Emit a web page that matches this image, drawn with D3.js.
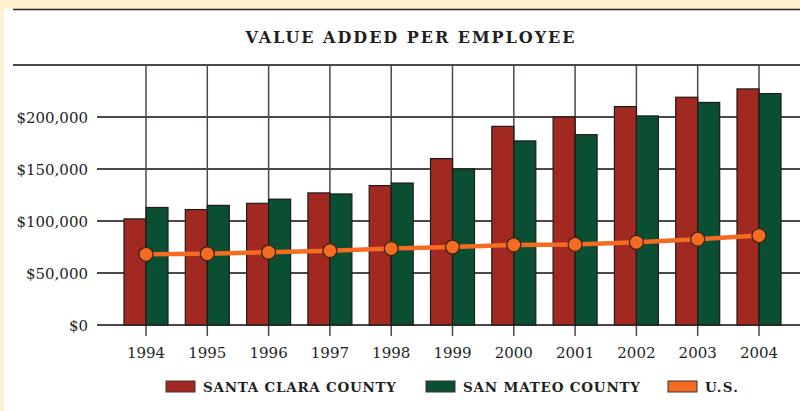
<!DOCTYPE html>
<html>
<head>
  <meta charset="utf-8">
  <style>
    body {
      margin: 0;
      background: #fdf1d2;
    }
    svg {
      display: block;
    }
    text {
      font-family: "DejaVu Serif", "Liberation Serif", serif;
      fill: #231f1f;
    }
  </style>
</head>
<body>
  <svg id="chart"></svg>
  <script src="https://cdn.jsdelivr.net/npm/d3@7"></script>
  <script>
    // data
    var years = ["1994", "1995", "1996", "1997", "1998", "1999", "2000", "2001", "2002", "2003", "2004"];
    var santaClara = [102000, 111000, 117000, 127000, 134000, 160000, 191000, 200000, 210000, 219000, 227000];
    var sanMateo = [113000, 115000, 121000, 126000, 136500, 150000, 177000, 183000, 201000, 214000, 222500];
    var usValues = [68000, 68500, 70000, 71500, 73500, 75000, 77000, 77500, 79500, 82500, 86000];
    var yTicks = [0, 50000, 100000, 150000, 200000];
    var seriesNames = ["SANTA CLARA COUNTY", "SAN MATEO COUNTY", "U.S."];
    var seriesColors = ["#a22822", "#0b4f33", "#f36c21"];

    var width = 800;
    var height = 411;
    var gridColor = "#4d4747";

    var svg = d3.select("#chart")
      .attr("width", width)
      .attr("height", height);

    // white panel
    svg.append("rect")
      .attr("x", 4).attr("y", 9)
      .attr("width", width - 4).attr("height", height - 9)
      .attr("fill", "white");
    svg.append("line")
      .attr("x1", 13).attr("x2", width)
      .attr("y1", 9.5).attr("y2", 9.5)
      .attr("stroke", "#2a2525").attr("stroke-width", 1.6);

    // title
    svg.append("text")
      .attr("x", 410).attr("y", 43)
      .attr("text-anchor", "middle")
      .attr("font-size", 16)
      .attr("font-weight", "bold")
      .attr("textLength", 329)
      .attr("lengthAdjust", "spacing")
      .text("VALUE ADDED PER EMPLOYEE");

    // scales
    var x = d3.scalePoint()
      .domain(years)
      .range([146, 759]);
    var xSub = d3.scaleBand()
      .domain([0, 1])
      .range([-22, 22]);
    var y = d3.scaleLinear()
      .domain([0, 250000])
      .range([325, 65]);

    // grid
    var grid = svg.append("g");
    grid.append("line")
      .attr("x1", 13).attr("x2", width)
      .attr("y1", y(250000)).attr("y2", y(250000))
      .attr("stroke", gridColor).attr("stroke-width", 2);
    grid.selectAll("line.h")
      .data(yTicks)
      .join("line")
      .attr("class", "h")
      .attr("x1", 97).attr("x2", width)
      .attr("y1", d => y(d)).attr("y2", d => y(d))
      .attr("stroke", gridColor).attr("stroke-width", 2);
    grid.selectAll("line.v")
      .data(years)
      .join("line")
      .attr("class", "v")
      .attr("x1", d => x(d)).attr("x2", d => x(d))
      .attr("y1", y(250000)).attr("y2", y(0) + 11)
      .attr("stroke", gridColor).attr("stroke-width", 1.5);

    // y labels
    svg.append("g").selectAll("text")
      .data(yTicks)
      .join("text")
      .attr("x", 88)
      .attr("y", d => y(d) + 5.5)
      .attr("text-anchor", "end")
      .attr("font-size", 15)
      .text(d => "$" + d3.format(",")(d));

    // x labels
    svg.append("g").selectAll("text")
      .data(years)
      .join("text")
      .attr("x", d => x(d))
      .attr("y", 358)
      .attr("text-anchor", "middle")
      .attr("font-size", 15)
      .text(d => d);

    // bars
    var barData = [];
    years.forEach(function(yr, i) {
      barData.push({year: yr, s: 0, value: santaClara[i]});
      barData.push({year: yr, s: 1, value: sanMateo[i]});
    });
    svg.append("g").selectAll("rect")
      .data(barData)
      .join("rect")
      .attr("x", d => x(d.year) + xSub(d.s))
      .attr("y", d => y(d.value))
      .attr("width", xSub.bandwidth())
      .attr("height", d => y(0) - y(d.value))
      .attr("fill", d => seriesColors[d.s])
      .attr("stroke", "#1e1a1a")
      .attr("stroke-width", 1.2);

    // U.S. line
    var line = d3.line()
      .x((d, i) => x(years[i]))
      .y(d => y(d));
    svg.append("path")
      .datum(usValues)
      .attr("d", line)
      .attr("fill", "none")
      .attr("stroke", seriesColors[2])
      .attr("stroke-width", 4.5);
    svg.append("g").selectAll("circle")
      .data(usValues)
      .join("circle")
      .attr("cx", (d, i) => x(years[i]))
      .attr("cy", d => y(d))
      .attr("r", 7)
      .attr("fill", seriesColors[2])
      .attr("stroke", "#3a2416")
      .attr("stroke-width", 1.3);

    // legend
    var legendItems = [
      {swatch: 166, text: 203, textWidth: 193},
      {swatch: 426, text: 463, textWidth: 177},
      {swatch: 668, text: 705, textWidth: 33}
    ];
    var legend = svg.append("g");
    legend.selectAll("rect")
      .data(legendItems)
      .join("rect")
      .attr("x", d => d.swatch)
      .attr("y", 381)
      .attr("width", 29)
      .attr("height", 11)
      .attr("fill", (d, i) => seriesColors[i])
      .attr("stroke", "#3a3333")
      .attr("stroke-width", 1);
    legend.selectAll("text")
      .data(legendItems)
      .join("text")
      .attr("x", d => d.text)
      .attr("y", 391.5)
      .attr("font-size", 13.5)
      .attr("font-weight", "bold")
      .attr("textLength", d => d.textWidth)
      .attr("lengthAdjust", "spacing")
      .text((d, i) => seriesNames[i]);
  </script>
</body>
</html>
